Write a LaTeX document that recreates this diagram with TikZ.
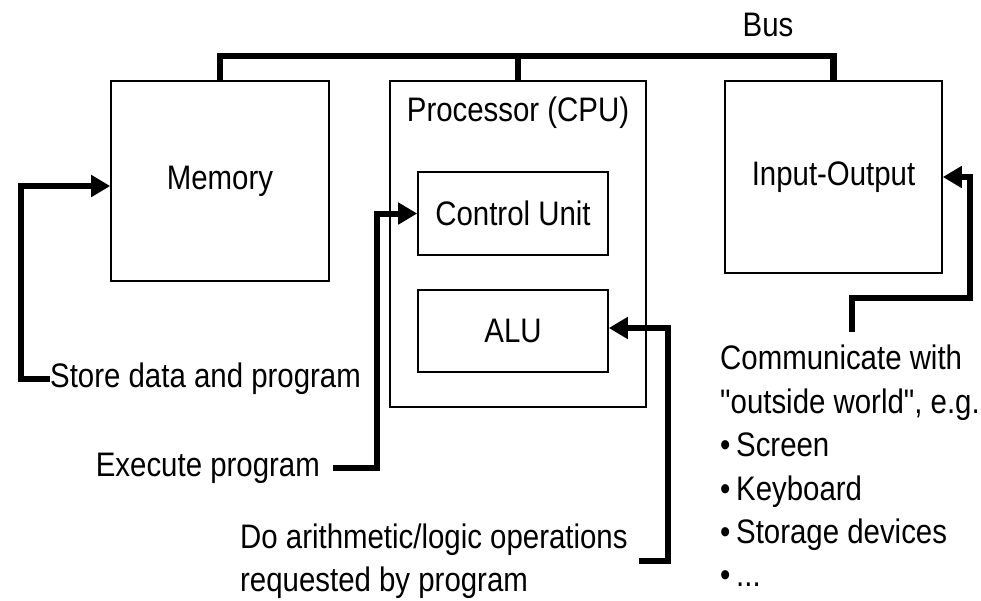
\documentclass[tikz,border=0pt]{standalone}
\usepackage{fontspec}
\setmainfont{Liberation Sans}[FakeStretch=0.865,Ligatures=TeXOff]
\usetikzlibrary{arrows.meta,calc}
\begin{document}
\begin{tikzpicture}[x=1pt,y=-1pt,
  every node/.style={inner sep=0pt,font=\fontsize{34}{43.4}\selectfont},
  box/.style={draw,line width=1.6pt,minimum width=#1},
  conn/.style={line width=6pt,-{Triangle[length=19pt,width=21pt]}},
  busline/.style={line width=6.5pt}]
\useasboundingbox (0,0) rectangle (981,600);

% units
\node[box=218pt,minimum height=200pt] (mem) at (220,181) {Memory};
\node[box=256pt,minimum height=326pt] (cpu) at (518,244) {};
\node (cpulbl) at (518,113) {Processor (CPU)};
\node[box=190pt,minimum height=83pt] (cu) at (513,213.5) {Control Unit};
\node[box=190pt,minimum height=82pt] (alu) at (513,331) {ALU};
\node[box=217pt,minimum height=192pt] (io) at (833.5,177) {Input-Output};

% bus
\node (bus) at (768,25) {Bus};
\draw[busline] (mem.north) -- ++(0,-24) -| (io.north);
\draw[busline] (cpu.north) -- ++(0,-24);

% annotations
\node[anchor=west] (store) at (50,379) {Store data and program};
\node[anchor=east] (exec) at (320,468) {Execute program};
\node[anchor=west,align=left] (arith) at (240,561)
  {Do arithmetic/logic operations\\requested by program};
\node[anchor=north west,align=left] (comm) at (720,345)
  {Communicate with\\"outside world", e.g.\\\textbullet\,Screen\\\textbullet\,Keyboard\\\textbullet\,Storage devices\\\textbullet\,...};

% connectors
\draw[conn] (store.west) -- ++(-29,0) |- ([yshift=-5pt]mem.west);
\draw[conn] ([xshift=13pt]exec.east) -- ++(44,0) |- (cu.west);
\draw[conn] ([xshift=11pt]arith.east) -- ++(29,0) |- ([yshift=3pt]alu.east);
\draw[conn] ($(comm.north west)+(132,-13)$) -- ++(0,-34) -- ++(118,0) |- (io.east);
\end{tikzpicture}
\end{document}
